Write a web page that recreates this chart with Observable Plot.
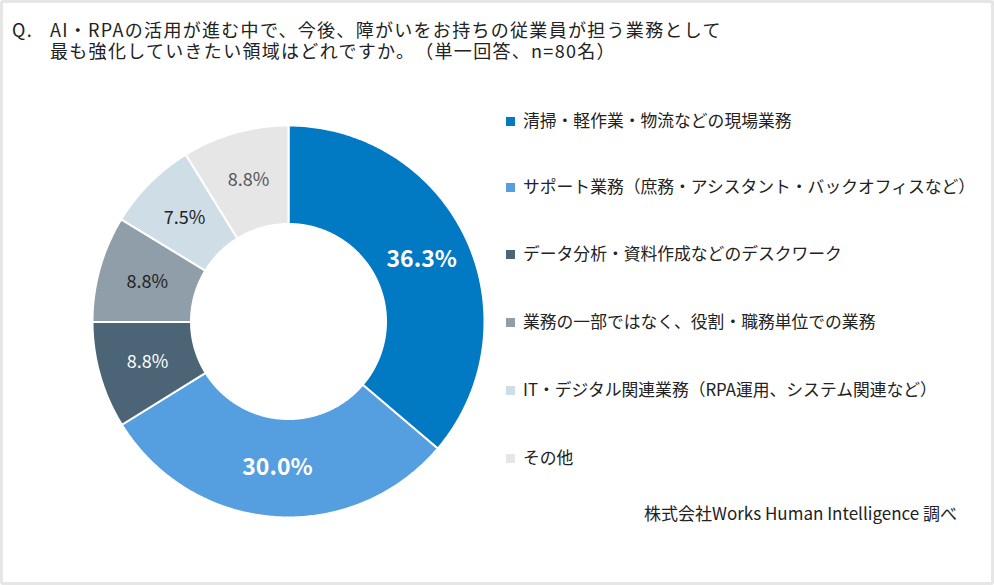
<!DOCTYPE html>
<html><head><meta charset="utf-8">
<script src="https://cdn.jsdelivr.net/npm/d3@7"></script>
<script src="https://cdn.jsdelivr.net/npm/@observablehq/plot@0.6"></script>
<style>
html,body{margin:0;padding:0;background:#fff;}
#frame{position:relative;width:994px;height:585px;box-sizing:border-box;border:3px solid #e6e6e6;border-radius:3px;font-family:"Noto Sans CJK JP","Noto Sans",sans-serif;color:#222;overflow:hidden;text-spacing-trim:space-all;}
.t{position:absolute;white-space:nowrap;font-size:18px;line-height:21px;letter-spacing:1.3px;text-spacing-trim:space-all;}
#chart{position:absolute;left:81.5px;top:114.5px;}
.lg{position:absolute;left:503px;font-size:16.8px;color:#222;white-space:nowrap;line-height:20px;text-spacing-trim:space-all;}
.lg span.sw{display:inline-block;width:9px;height:9px;margin-right:8px;vertical-align:1px;}
#cap{position:absolute;right:34px;top:497px;font-size:17px;color:#222;white-space:nowrap;}
</style></head>
<body>
<div id="frame">
  <div class="t" style="left:9px;top:16px">Q.</div>
  <div class="t" style="left:47px;top:16px">AI・RPAの活用が進む中で、今後、障がいをお持ちの従業員が担う業務として<br>最も強化していきたい領域はどれですか。（単一回答、n=80名）</div>
  <div id="chart"></div>
  <div id="legend"></div>
  <div id="cap">株式会社Works Human Intelligence 調べ</div>
</div>
<script>
const categories = [
  "清掃・軽作業・物流などの現場業務",
  "サポート業務（庶務・アシスタント・バックオフィスなど）",
  "データ分析・資料作成などのデスクワーク",
  "業務の一部ではなく、役割・職務単位での業務",
  "IT・デジタル関連業務（RPA運用、システム関連など）",
  "その他"
];
const values = [36.3, 30.0, 8.8, 8.8, 7.5, 8.8];
const valueLabels = ["36.3%", "30.0%", "8.8%", "8.8%", "7.5%", "8.8%"];

// styles
const colors = ["#0279c3", "#559ee0", "#4b6476", "#8f9ea9", "#cfdde6", "#e6e6e6"];
const labelFill = ["#ffffff", "#ffffff", "#ffffff", "#222222", "#222222", "#555555"];
const labelWeight = [700, 700, 400, 400, 400, 400];
const labelSize = [23, 23, 18, 18, 18, 18];
const R_OUT = 196, R_IN = 97.5, HALF = 203;

const pie = d3.pie().sort(null).value(d => d.value)(categories.map((c, i) => ({cat: c, value: values[i], i})));

// Build ring-sector outlines from the pie angles (0 = top, clockwise)
const pts = [];
for (const s of pie) {
  const n = Math.max(8, Math.ceil((s.endAngle - s.startAngle) / 0.01));
  for (let k = 0; k <= n; k++) {
    const a = s.startAngle + (s.endAngle - s.startAngle) * k / n;
    pts.push({cat: s.data.cat, x: R_OUT * Math.sin(a), y: R_OUT * Math.cos(a)});
  }
  for (let k = n; k >= 0; k--) {
    const a = s.startAngle + (s.endAngle - s.startAngle) * k / n;
    pts.push({cat: s.data.cat, x: R_IN * Math.sin(a), y: R_IN * Math.cos(a)});
  }
}
const rMid = (R_OUT + R_IN) / 2;
const labels = pie.map(s => {
  const a = (s.startAngle + s.endAngle) / 2;
  return {i: s.data.i, text: valueLabels[s.data.i], x: rMid * Math.sin(a), y: rMid * Math.cos(a)};
});

const marks = [
  Plot.line(pts, {x: "x", y: "y", z: "cat", fill: "cat", stroke: "white", strokeWidth: 2, curve: "linear-closed"})
];
labels.forEach(l => {
  marks.push(Plot.text([l], {x: "x", y: "y", text: "text", fill: labelFill[l.i], fontWeight: labelWeight[l.i], fontSize: labelSize[l.i], fontFamily: "Noto Sans CJK JP"}));
});

const plot = Plot.plot({
  width: 2 * HALF, height: 2 * HALF,
  margin: 0,
  x: {domain: [-HALF, HALF], axis: null},
  y: {domain: [-HALF, HALF], axis: null},
  color: {domain: categories, range: colors},
  style: {background: "transparent", overflow: "visible"},
  marks
});
document.getElementById("chart").appendChild(plot);

const rowTops = [107, 173, 240, 308, 376, 444];
const legend = document.getElementById("legend");
categories.forEach((c, i) => {
  const d = document.createElement("div");
  d.className = "lg";
  d.style.top = rowTops[i] + "px";
  d.innerHTML = `<span class="sw" style="background:${colors[i]}"></span>${c}`;
  legend.appendChild(d);
});
</script>
</body></html>
